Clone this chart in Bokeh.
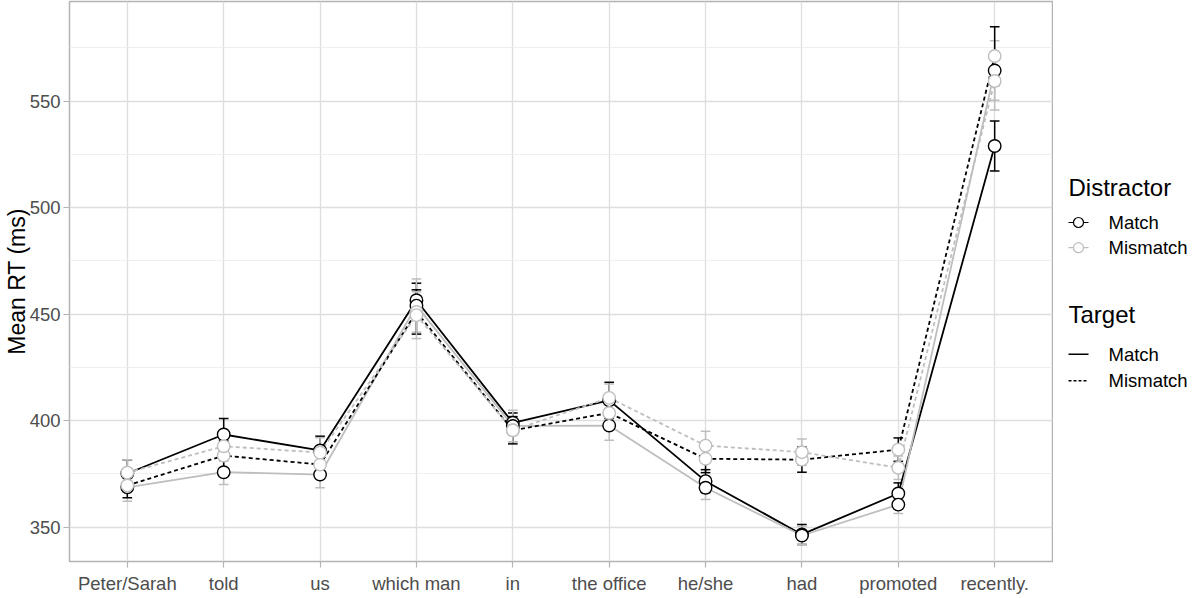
import numpy as np
from bokeh.plotting import figure
from bokeh.layouts import row
from bokeh.models import Range1d, FixedTicker
from bokeh.embed import file_html
from bokeh.resources import INLINE
from bokeh.core.properties import value

categories = ["Peter/Sarah", "told", "us", "which man", "in", "the office",
              "he/she", "had", "promoted", "recently."]
y_ticks = [350, 400, 450, 500, 550]
y_minor = [375, 425, 475, 525, 575]

# Distractor Match / Target Match
rt_dm_tm = [375.2, 393.5, 386.0, 456.5, 399.0, 409.5, 371.6, 346.6, 365.8, 528.9]
se_dm_tm = [6.5, 7.5, 6.7, 8.0, 4.6, 8.5, 5.4, 4.7, 5.0, 11.7]
# Distractor Mismatch / Target Match
rt_dmm_tm = [368.7, 375.8, 374.7, 454.0, 397.5, 397.7, 368.5, 346.1, 360.6, 564.3]
se_dmm_tm = [6.5, 5.8, 6.2, 12.5, 7.4, 6.9, 5.5, 4.3, 4.2, 14.0]
# Distractor Match / Target Mismatch
rt_dm_tmm = [369.6, 383.6, 379.4, 451.0, 395.5, 403.6, 382.1, 381.7, 386.4, 571.1]
se_dm_tmm = [5.8, 7.0, 6.0, 10.4, 6.4, 6.0, 6.5, 5.9, 5.5, 13.8]
# Distractor Mismatch / Target Mismatch
rt_dmm_tmm = [375.6, 388.0, 385.0, 449.5, 395.5, 410.7, 388.3, 385.2, 377.9, 559.4]
se_dmm_tmm = [6.0, 7.0, 7.0, 11.0, 5.5, 6.5, 6.7, 6.2, 5.5, 13.6]

distractor_levels = ["Match", "Mismatch"]
target_levels = ["Match", "Mismatch"]

BLACK = "#000000"
GREY = "#BEBEBE"
FONT = "Liberation Sans"

# (means, se, line colour [Distractor], dash [Target], point colour)
series = [
    (rt_dm_tm, se_dm_tm, BLACK, "solid", BLACK),
    (rt_dmm_tm, se_dmm_tm, GREY, "solid", BLACK),
    (rt_dm_tmm, se_dm_tmm, BLACK, "4 3", GREY),
    (rt_dmm_tmm, se_dmm_tmm, GREY, "4 3", GREY),
]

x = np.arange(1, len(categories) + 1, dtype=float)

FRAME_H = 560
p = figure(frame_width=983, frame_height=FRAME_H, output_backend="svg", toolbar_location=None,
           x_range=Range1d(0.4, 10.6), y_range=Range1d(333.9, 596.7),
           min_border_top=1, min_border_right=1, min_border_left=0, min_border_bottom=0)
p.background_fill_color = "white"
p.border_fill_color = "white"
p.outline_line_color = "#B3B3B3"
p.outline_line_width = 1.5

p.xaxis.ticker = FixedTicker(ticks=list(x))
p.xaxis.major_label_overrides = {float(i): c for i, c in zip(x, categories)}
p.xaxis.major_label_overrides.update({int(i): c for i, c in zip(x, categories)})
p.yaxis.ticker = FixedTicker(ticks=y_ticks, minor_ticks=y_minor)

for ax in (p.xaxis, p.yaxis):
    ax.axis_line_color = None
    ax.major_tick_line_color = "#B3B3B3"
    ax.major_tick_line_width = 1.2
    ax.major_tick_out = 6
    ax.major_tick_in = 0
    ax.minor_tick_line_color = None
    ax.major_label_text_font = FONT
    ax.major_label_text_font_size = "18.5px"
    ax.major_label_text_color = "#4D4D4D"
    ax.major_label_text_line_height = 0.9

p.xaxis.major_label_standoff = 5
p.yaxis.major_label_standoff = 3

p.yaxis.axis_label = "Mean RT (ms)"
p.yaxis.axis_label_text_font = FONT
p.yaxis.axis_label_text_font_size = "23px"
p.yaxis.axis_label_text_font_style = "normal"
p.yaxis.axis_label_text_color = "black"
p.yaxis.axis_label_text_line_height = 0.8
p.yaxis.axis_label_standoff = -3

p.xgrid.grid_line_color = "#DEDEDE"
p.xgrid.grid_line_width = 1.3
p.ygrid.grid_line_color = "#DEDEDE"
p.ygrid.grid_line_width = 1.3
p.ygrid.minor_grid_line_color = "#EBEBEB"
p.ygrid.minor_grid_line_width = 0.8

# error bars (coloured like the lines)
cap = 0.05
for m, s, lc, dash, pc in series:
    m = np.array(m); s = np.array(s)
    hi = m + s; lo = m - s
    p.segment(x0=x, x1=x, y0=lo, y1=hi, line_color=lc, line_width=1.5)
    p.segment(x0=x - cap, x1=x + cap, y0=hi, y1=hi, line_color=lc, line_width=1.5)
    p.segment(x0=x - cap, x1=x + cap, y0=lo, y1=lo, line_color=lc, line_width=1.5)

# lines
for m, s, lc, dash, pc in series:
    p.line(x, m, line_color=lc, line_dash=dash, line_width=1.8)

# points
for m, s, lc, dash, pc in series:
    p.scatter(x, m, marker="circle", size=12.5, fill_color="white",
              line_color=pc, line_width=1.4)

# ---- legend panel (frame aligned with the main frame) ----
LG_W = 137
lg = figure(frame_width=LG_W, frame_height=FRAME_H, output_backend="svg", toolbar_location=None,
            x_range=Range1d(0, LG_W), y_range=Range1d(FRAME_H, 0),
            x_axis_type=None, y_axis_type=None, min_border=0)
lg.outline_line_color = None
lg.grid.visible = False
lg.background_fill_color = "white"
lg.border_fill_color = "white"

kx = 25
tx = 55
ttx = 15
lg.text(x=[ttx], y=[186], text=["Distractor"], text_font=value(FONT),
        text_font_size="24px", text_baseline="alphabetic", text_color="black")
lg.text(x=[ttx], y=[313.3], text=["Target"], text_font=value(FONT),
        text_font_size="24px", text_baseline="alphabetic", text_color="black")

d_rows = [221.0, 246.2]
d_cols = [BLACK, GREY]
for yy, lab, col in zip(d_rows, distractor_levels, d_cols):
    lg.segment(x0=[kx - 10], x1=[kx + 10], y0=[yy], y1=[yy], line_color=col, line_width=1.2)
    lg.scatter([kx], [yy], marker="circle", size=10, fill_color="white",
               line_color=col, line_width=1.2)
    lg.text(x=[tx], y=[yy], text=[lab], text_font=value(FONT), text_font_size="18.5px",
            text_baseline="middle", text_color="black")

t_rows = [352.8, 379.2]
t_dash = ["solid", "3 2"]
for yy, lab, dash in zip(t_rows, target_levels, t_dash):
    lg.segment(x0=[kx - 10], x1=[kx + 10], y0=[yy], y1=[yy], line_color=BLACK,
               line_width=1.5, line_dash=dash)
    lg.text(x=[tx], y=[yy], text=[lab], text_font=value(FONT), text_font_size="18.5px",
            text_baseline="middle", text_color="black")

layout = row(p, lg, spacing=0)
open("out.html", "w").write(file_html(layout, INLINE))
